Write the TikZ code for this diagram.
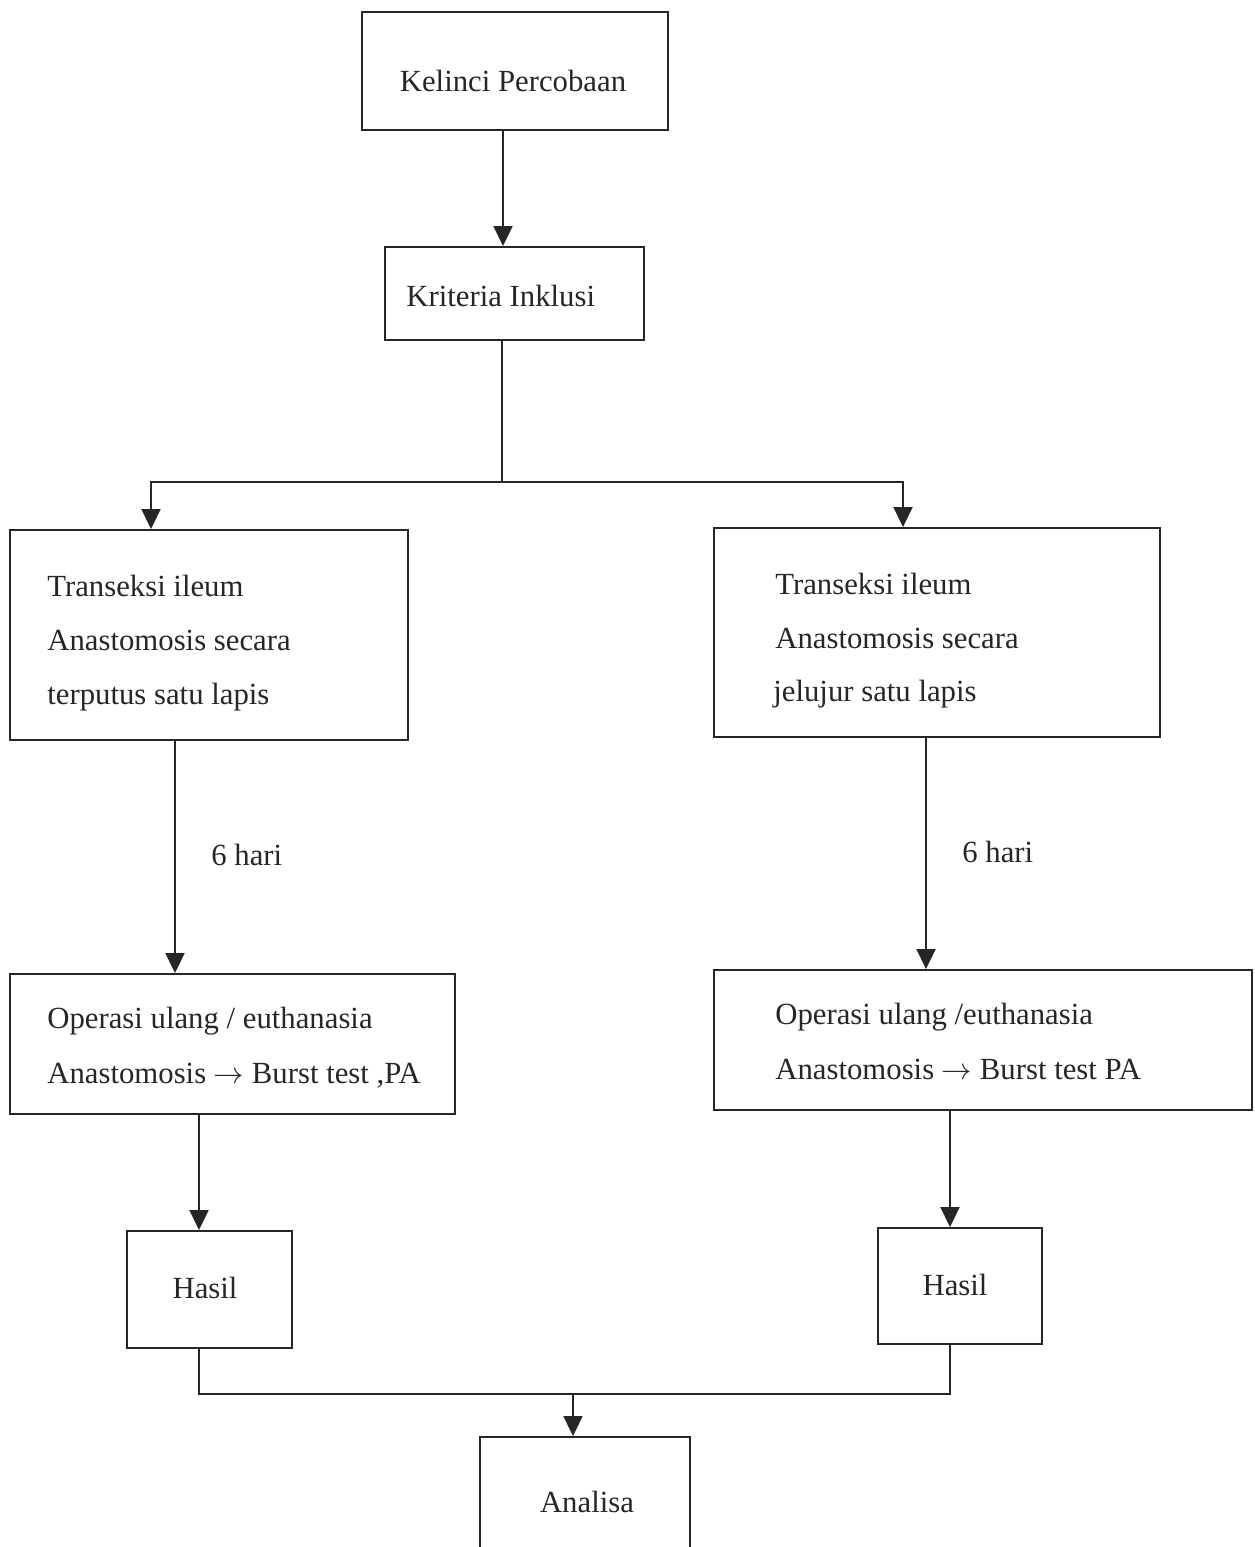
\documentclass[tikz,border=0pt]{standalone}
\usepackage{fontspec}
\setmainfont{Liberation Serif}
\usetikzlibrary{arrows.meta}
\begin{document}
\begin{tikzpicture}[x=0.02cm,y=-0.02cm,
  box/.style={draw=black!85,line width=1.1pt,inner sep=0pt},
  txt/.style={inner sep=0pt,font=\fontsize{17.5}{21}\selectfont,text=black!85},
  ln/.style={draw=black!85,line width=1.1pt},
  arr/.style={ln,-{Triangle[length=0.4cm,width=0.38cm]}}]
\clip (0,0) rectangle (1254,1547);
\useasboundingbox (0,0) rectangle (1254,1547);
% boxes
\node[box,minimum width=6.12cm,minimum height=2.36cm] (kel) at (515,71) {};
\node[box,minimum width=5.18cm,minimum height=1.86cm] (kri) at (514.5,293.5) {};
\node[box,minimum width=7.96cm,minimum height=4.2cm] (lt) at (209,635) {};
\node[box,minimum width=8.92cm,minimum height=4.18cm] (rt) at (937,632.5) {};
\node[box,minimum width=8.9cm,minimum height=2.8cm] (lo) at (232.5,1044) {};
\node[box,minimum width=10.76cm,minimum height=2.8cm] (ro) at (983,1040) {};
\node[box,minimum width=3.3cm,minimum height=2.34cm] (lh) at (209.5,1289.5) {};
\node[box,minimum width=3.28cm,minimum height=2.32cm] (rh) at (960,1286) {};
\node[box,minimum width=4.2cm,minimum height=3.26cm] (an) at (585,1518.5) {};
% texts
\node[txt,anchor=base] (tkel) at (513,92) {Kelinci Percobaan};
\node[txt,anchor=base west] (tkri) at (406,307) {Kriteria Inklusi};
\node[txt,anchor=base west] (tlt1) at (47,596) {Transeksi ileum};
\node[txt,anchor=base west] (tlt2) at (47,650) {Anastomosis secara};
\node[txt,anchor=base west] (tlt3) at (47,704) {terputus satu lapis};
\node[txt,anchor=base west] (trt1) at (775,594) {Transeksi ileum};
\node[txt,anchor=base west] (trt2) at (775,648) {Anastomosis secara};
\node[txt,anchor=base west] (trt3) at (773,701) {jelujur satu lapis};
\node[txt,anchor=base west] (tlo1) at (47,1028) {Operasi ulang / euthanasia};
\node[txt,anchor=base west] (tlo2) at (47,1083) {Anastomosis $\rightarrow$ Burst test ,PA};
\node[txt,anchor=base west] (tro1) at (775,1024) {Operasi ulang /euthanasia};
\node[txt,anchor=base west] (tro2) at (775,1079) {Anastomosis $\rightarrow$ Burst test PA};
\node[txt,anchor=base] (tlh) at (205,1298) {Hasil};
\node[txt,anchor=base] (trh) at (955,1295) {Hasil};
\node[txt,anchor=base] (tan) at (587,1512) {Analisa};
\node[txt,anchor=base west] (d1) at (211,865) {6 hari};
\node[txt,anchor=base west] (d2) at (962,862) {6 hari};
% column coordinates
\coordinate (xa) at (503,0);
\coordinate (xb) at (502,0);
\coordinate (xl1) at (151,0);
\coordinate (xr1) at (903,0);
\coordinate (xl2) at (175,0);
\coordinate (xr2) at (926,0);
\coordinate (xl3) at (199,0);
\coordinate (xr3) at (950,0);
\coordinate (xm) at (573,0);
\coordinate (split) at (502,482);
\coordinate (join) at (573,1394);
% connectors
\draw[arr] (kel.south -| xa) -- (kri.north -| xa);
\draw[ln] (kri.south -| xb) -- (split);
\draw[arr] (split) -| (lt.north -| xl1);
\draw[arr] (split) -| (rt.north -| xr1);
\draw[arr] (lt.south -| xl2) -- (lo.north -| xl2);
\draw[arr] (rt.south -| xr2) -- (ro.north -| xr2);
\draw[arr] (lo.south -| xl3) -- (lh.north -| xl3);
\draw[arr] (ro.south -| xr3) -- (rh.north -| xr3);
\draw[ln] (lh.south -| xl3) |- (join);
\draw[ln] (rh.south -| xr3) |- (join);
\draw[arr] (join) -- (an.north -| xm);
\end{tikzpicture}
\end{document}
